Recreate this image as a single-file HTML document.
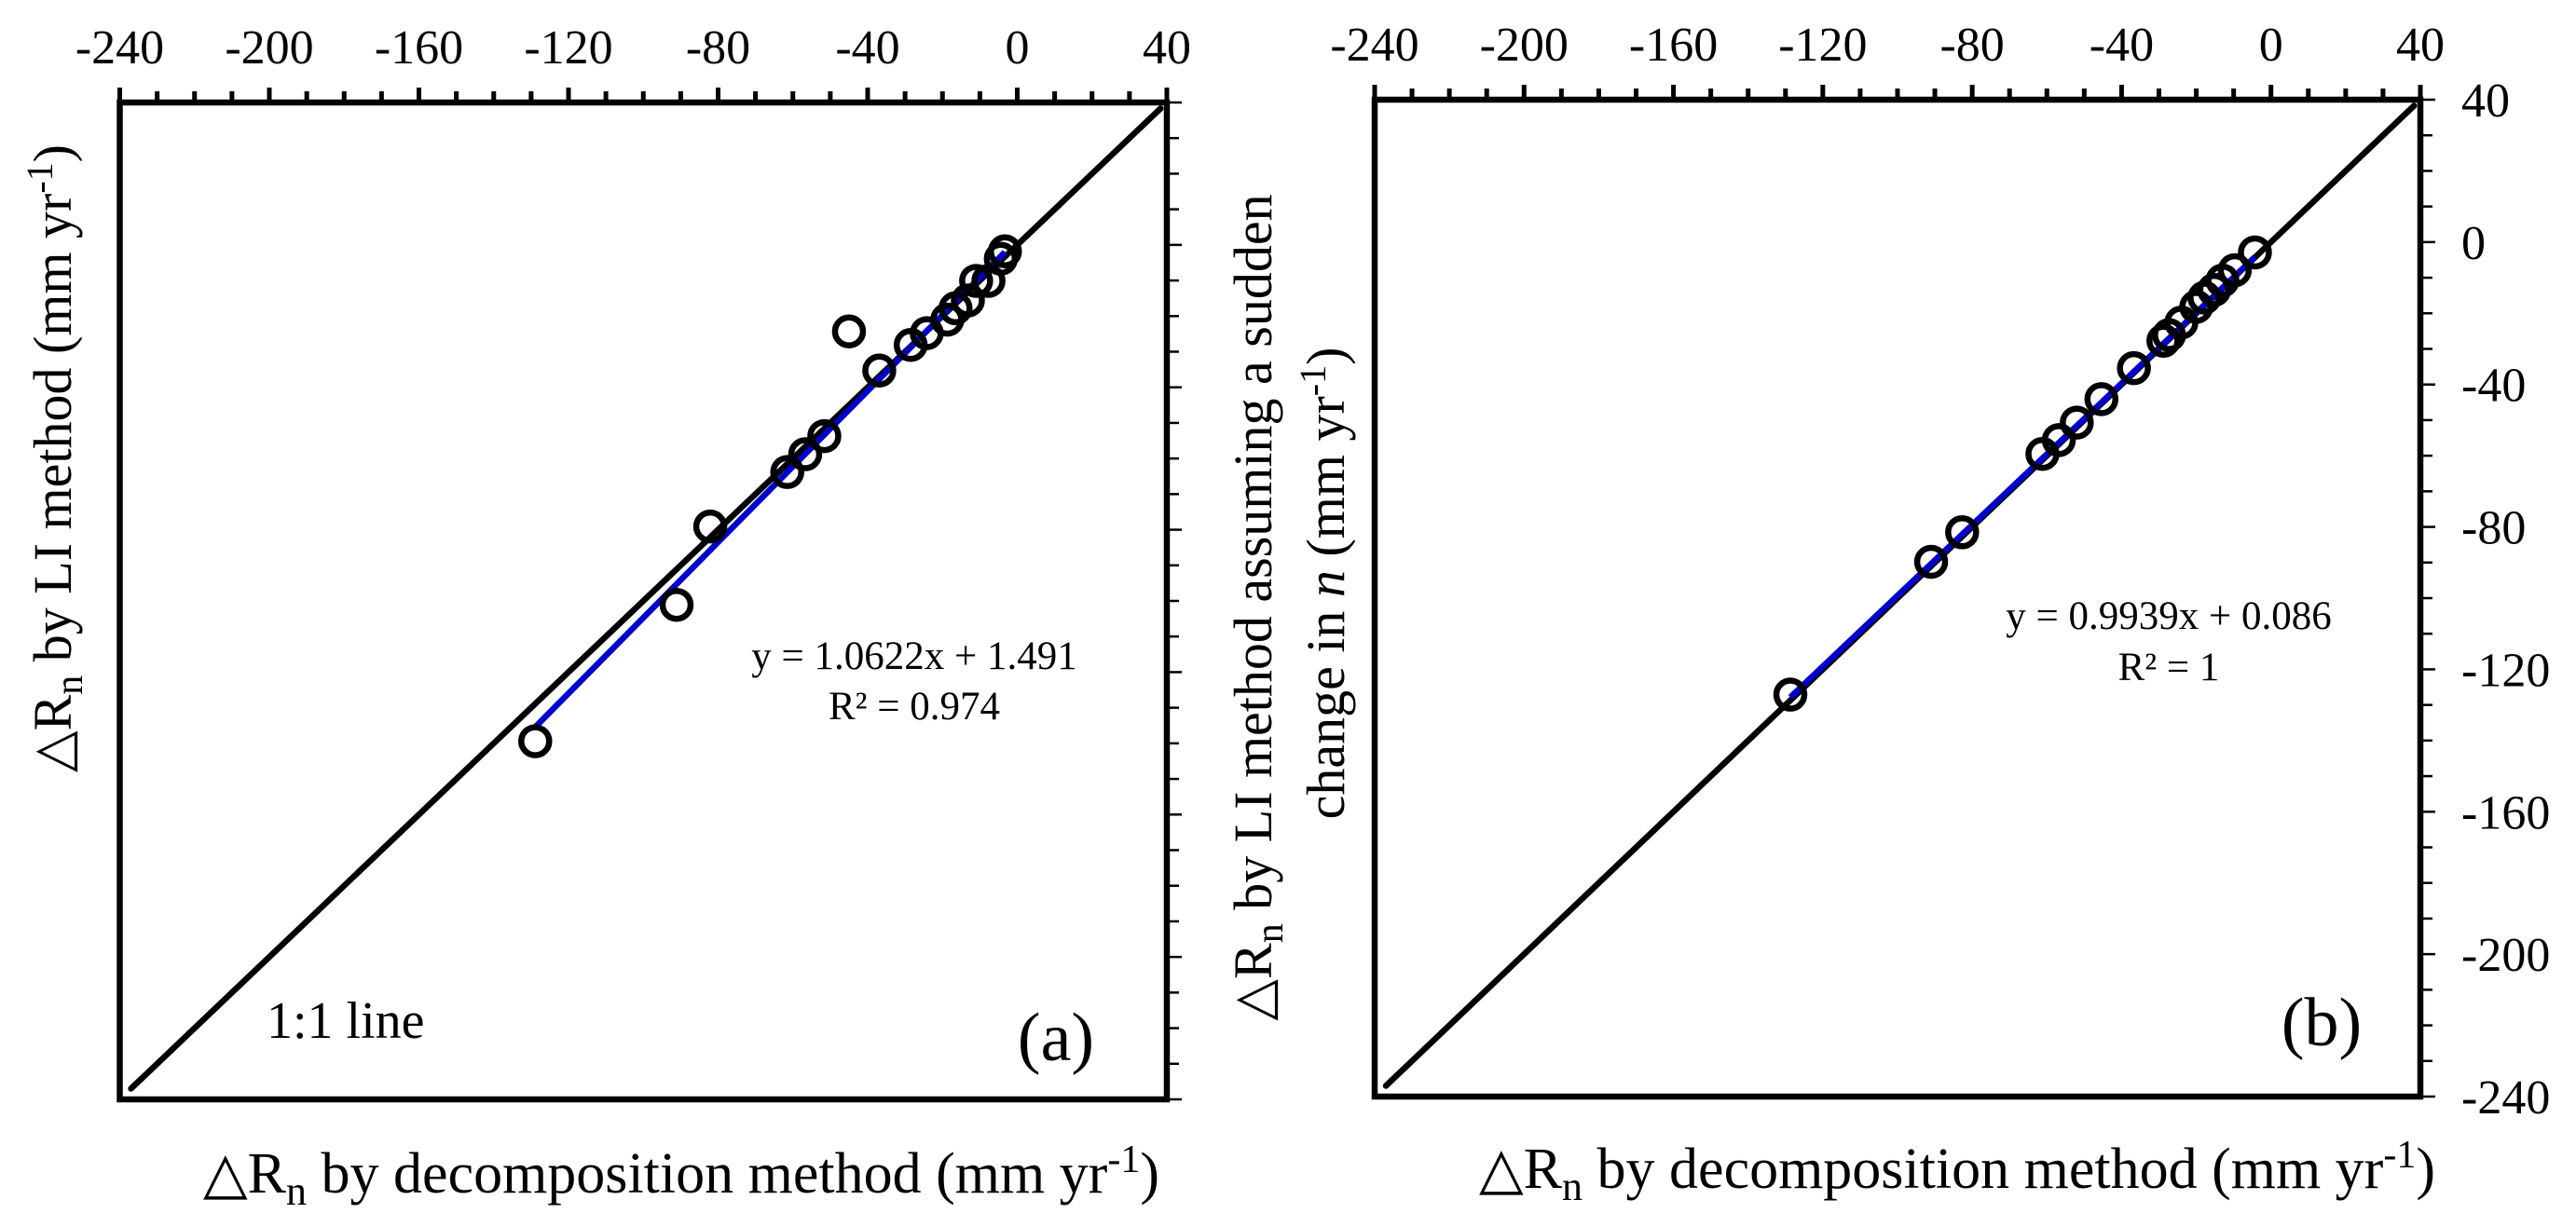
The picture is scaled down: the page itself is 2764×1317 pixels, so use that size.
<!DOCTYPE html>
<html><head><meta charset="utf-8"><style>
html,body{margin:0;padding:0;background:#fff}
svg{display:block;font-family:"Liberation Serif",serif}
</style></head><body>
<svg id="chart" width="2764" height="1317" viewBox="0 0 2764 1317" xmlns="http://www.w3.org/2000/svg">
<g id="pa"></g>
<g id="pb"></g>
<g font-family="Liberation Serif, serif" fill="#000">
<text x="981" y="718" text-anchor="middle" font-size="43">y = 1.0622x + 1.491</text>
<text x="981" y="772" text-anchor="middle" font-size="43">R² = 0.974</text>
<text x="2327" y="675" text-anchor="middle" font-size="43">y = 0.9939x + 0.086</text>
<text x="2327" y="730" text-anchor="middle" font-size="43">R² = 1</text>
<text x="286" y="1114" font-size="56">1:1 line</text>
<text x="1133" y="1138" text-anchor="middle" font-size="74">(a)</text>
<text x="2491" y="1122" text-anchor="middle" font-size="74">(b)</text>
<text x="731" y="1280" text-anchor="middle" font-size="62">△R<tspan font-size="44" dy="13">n</tspan><tspan dy="-13"> by decomposition method (mm yr</tspan><tspan font-size="42" dy="-22">-1</tspan><tspan dy="22">)</tspan></text>
<text x="2100" y="1275" text-anchor="middle" font-size="62">△R<tspan font-size="44" dy="13">n</tspan><tspan dy="-13"> by decomposition method (mm yr</tspan><tspan font-size="42" dy="-22">-1</tspan><tspan dy="22">)</tspan></text>
<text transform="translate(76,492) rotate(-90)" text-anchor="middle" font-size="58">△R<tspan font-size="42" dy="12">n</tspan><tspan dy="-12"> by LI method (mm yr</tspan><tspan font-size="40" dy="-20">-1</tspan><tspan dy="20">)</tspan></text>
<text transform="translate(1364,652) rotate(-90)" text-anchor="middle" font-size="58">△R<tspan font-size="42" dy="12">n</tspan><tspan dy="-12"> by LI method assuming a sudden</tspan></text>
<text transform="translate(1442,626) rotate(-90)" text-anchor="middle" font-size="58">change in <tspan font-style="italic">n</tspan> (mm yr<tspan font-size="40" dy="-20">-1</tspan><tspan dy="20">)</tspan></text>
</g>
</svg>
<script>
const tickValues = [-240,-200,-160,-120,-80,-40,0,40];
const aX = [-128.9,-91.1,-82.1,-61.5,-56.7,-51.6,-45.0,-36.9,-28.5,-24.2,-18.7,-16.5,-13.2,-11.0,-7.7,-4.4,-3.3];
const aY = [-139.4,-101.1,-79.1,-63.8,-58.8,-53.7,-24.3,-35.3,-28.1,-24.8,-21.0,-17.8,-15.6,-10.1,-10.1,-3.9,-1.8];
const aFit = [1.0622, 1.491];
const bX = [-128.7,-91.0,-82.7,-61.2,-56.8,-52.0,-45.4,-36.7,-28.8,-27.3,-24.0,-20.0,-17.8,-15.2,-13.0,-9.7,-4.3];
const bY = [-127.1,-89.8,-81.5,-59.5,-55.6,-50.7,-44.1,-35.4,-27.7,-26.1,-22.6,-18.2,-15.6,-13.4,-10.8,-7.9,-2.9];
const bFit = [0.9939, 0.086];
const NS="http://www.w3.org/2000/svg";
function mk(parent,tag,attrs,text){const e=document.createElementNS(NS,tag);for(const k in attrs)e.setAttribute(k,attrs[k]);if(text!==undefined)e.textContent=text;parent.appendChild(e);return e;}
function panel(g,L,R,T,B,xs,ys,fit,rightLabels){
  const sx=v=>L+(v+240)/280*(R-L);
  const sy=v=>T+(40-v)/280*(B-T);
  for(let v=-240;v<=40;v+=10){
    const major=v%40===0;
    const t=mk(g,'line',{x1:sx(v),x2:sx(v),y1:T,y2:T-(major?16:12),stroke:'#000','stroke-width':5});
    
    
    const r=mk(g,'line',{x1:R,x2:R+(major?16:13),y1:sy(v),y2:sy(v),stroke:'#000','stroke-width':2.5});
    
    
  }
  tickValues.forEach(v=>{
    const t=mk(g,'text',{x:sx(v),y:T-42,'text-anchor':'middle','font-size':52},String(v));
    
    
    if(rightLabels){
      const r=mk(g,'text',{x:R+44,y:sy(v)+18,'text-anchor':'start','font-size':52},String(v));
      
      
    }
  });
  const one=mk(g,'line',{x1:sx(-237),y1:sy(-237),x2:sx(38.3),y2:sy(38.3),stroke:'#000','stroke-width':6.5,'stroke-linecap':'round'});
  
  
  const xmin=Math.min(...xs),xmax=Math.max(...xs);
  const fl=mk(g,'line',{x1:sx(xmin),y1:sy(fit[0]*xmin+fit[1]),x2:sx(xmax),y2:sy(fit[0]*xmax+fit[1]),stroke:'#0000cc','stroke-width':6.5});
  
  
  xs.forEach((x,i)=>{
    const c=mk(g,'circle',{cx:sx(x),cy:sy(ys[i]),r:15,fill:'none',stroke:'#000','stroke-width':6.5});
    
    
  });
  const box=mk(g,'rect',{x:L,y:T,width:R-L,height:B-T,fill:'none',stroke:'#000','stroke-width':6.5});
  
  
}
panel(document.getElementById('pa'),128.5,1252,110,1180,aX,aY,aFit,false);
panel(document.getElementById('pb'),1475,2597,107,1177,bX,bY,bFit,true);
</script>
</body></html>
